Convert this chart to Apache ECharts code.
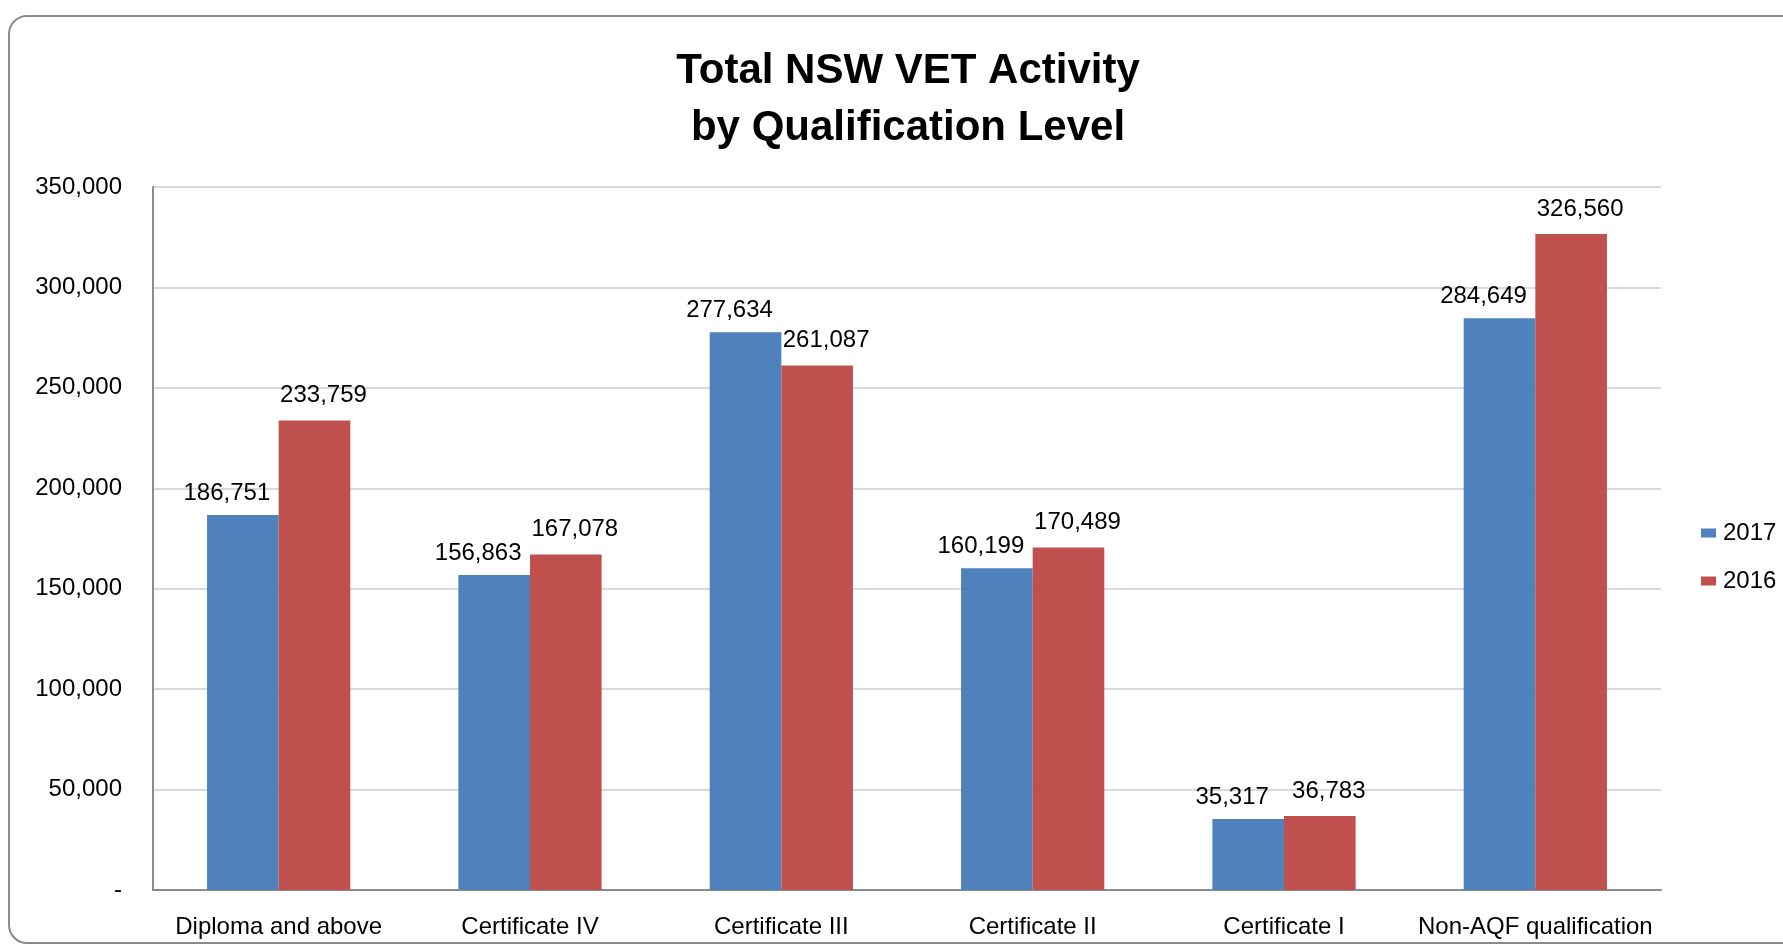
<!DOCTYPE html>
<html>
<head>
<meta charset="utf-8">
<script src="https://cdn.jsdelivr.net/npm/echarts@6/dist/echarts.min.js"></script>
<style>
html,body{margin:0;padding:0;background:#fff;}
#chart{width:1783px;height:946px;}
</style>
</head>
<body>
<div id="chart"></div>
<script>
const categories = ['Diploma and above','Certificate IV','Certificate III','Certificate II','Certificate I','Non-AQF qualification'];
const seriesNames = ['2017','2016'];
const values2017 = [186751,156863,277634,160199,35317,284649];
const values2016 = [233759,167078,261087,170489,36783,326560];
const yTicks = [0,50000,100000,150000,200000,250000,300000,350000];

const fmt = v => v === 0 ? '-' : v.toLocaleString('en-US');
const numFont = '"Liberation Sans", Arial, sans-serif';
const txtFont = '"Liberation Sans Narrow", "Liberation Sans", Arial, sans-serif';

const chart = echarts.init(document.getElementById('chart'));
chart.setOption({
  animation: false,
  backgroundColor: '#ffffff',
  graphic: [{
    type: 'rect',
    shape: {x: 9, y: 16, width: 1800, height: 927, r: 18},
    style: {fill: 'none', stroke: '#8a8a8a', lineWidth: 2},
    z: -1
  }],
  title: {
    text: 'Total NSW VET Activity\nby Qualification Level',
    left: 903,
    textAlign: 'center',
    top: 38,
    textStyle: {fontFamily: numFont, fontWeight: 'bold', fontSize: 42, lineHeight: 57, color: '#000'}
  },
  legend: {
    orient: 'vertical',
    left: 1696,
    top: 516,
    itemWidth: 15,
    itemHeight: 9,
    itemGap: 24,
    icon: 'rect',
    data: seriesNames,
    textStyle: {fontFamily: numFont, fontSize: 24, lineHeight: 24, color: '#000', padding: [0,0,0,2]}
  },
  grid: {left: 153, top: 187, right: 122, bottom: 56, containLabel: false},
  xAxis: {
    type: 'category',
    data: categories,
    axisLine: {lineStyle: {color: '#8c8c8c', width: 2}},
    axisTick: {show: false},
    axisLabel: {fontFamily: txtFont, fontSize: 24, color: '#000', margin: 25, interval: 0}
  },
  yAxis: {
    type: 'value',
    min: yTicks[0],
    max: yTicks[yTicks.length-1],
    interval: yTicks[1]-yTicks[0],
    axisLine: {show: true, lineStyle: {color: '#8c8c8c', width: 2}},
    axisTick: {show: false},
    splitLine: {lineStyle: {color: '#d9d9d9', width: 2}},
    axisLabel: {fontFamily: numFont, fontSize: 24, color: '#000', margin: 31, formatter: fmt}
  },
  series: [
    {
      name: seriesNames[0], type: 'bar', data: values2017,
      barGap: '0%', barCategoryGap: '43%',
      itemStyle: {color: '#4F81BD'},
      label: {show: true, position: 'top', distance: 10, offset: [-16, 0], formatter: p => fmt(p.value),
        fontFamily: numFont, fontSize: 24, color: '#000'}
    },
    {
      name: seriesNames[1], type: 'bar', data: values2016,
      barGap: '0%', barCategoryGap: '43%',
      itemStyle: {color: '#C0504D'},
      label: {show: true, position: 'top', distance: 13, offset: [9, 0], formatter: p => fmt(p.value),
        fontFamily: numFont, fontSize: 24, color: '#000'}
    }
  ]
});
</script>
</body>
</html>
